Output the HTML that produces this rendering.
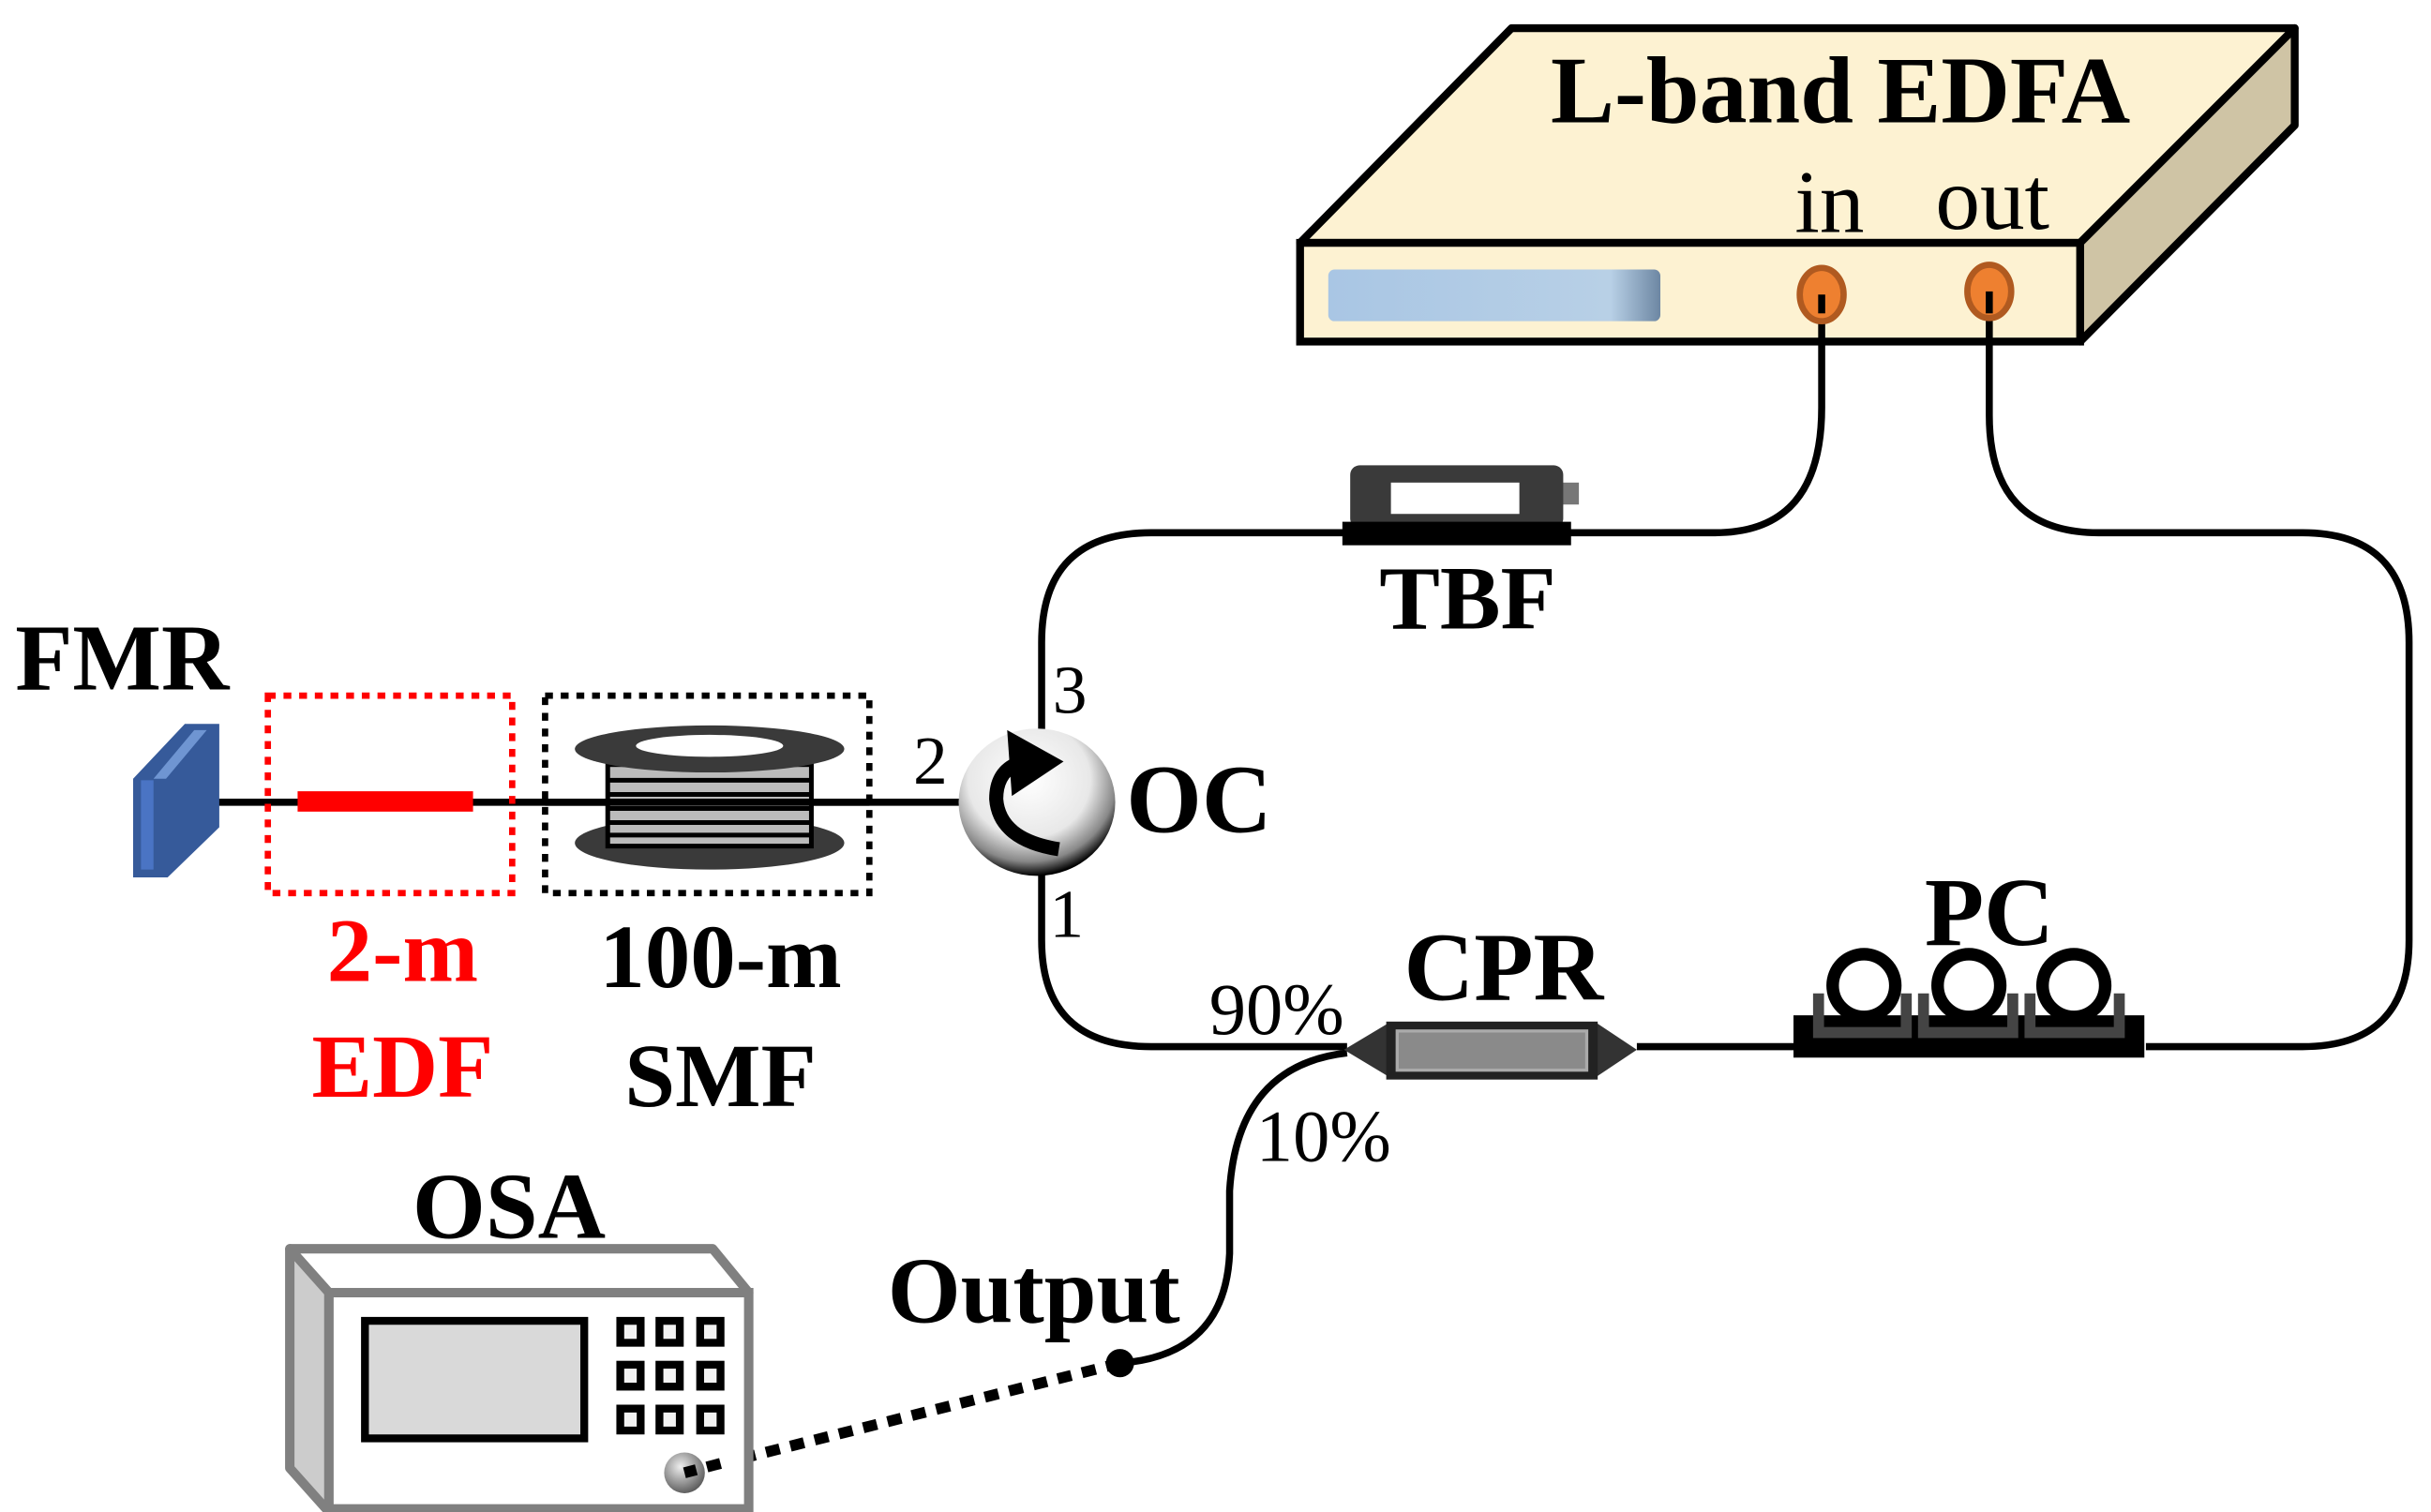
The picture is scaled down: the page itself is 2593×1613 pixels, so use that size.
<!DOCTYPE html>
<html><head><meta charset="utf-8"><style>
html,body{margin:0;padding:0;background:#fff;}
svg{display:block;}
text{font-family:"Liberation Serif",serif;}
</style></head><body>
<svg width="2593" height="1613" viewBox="0 0 1552 965" preserveAspectRatio="none" xmlns="http://www.w3.org/2000/svg">
<defs>
<linearGradient id="bl" x1="0" x2="1"><stop offset="0" stop-color="#a9c6e4"/><stop offset="0.85" stop-color="#b8d0e6"/><stop offset="1" stop-color="#6d87a3"/></linearGradient>
<radialGradient id="oc" cx="0.45" cy="0.35" r="0.65"><stop offset="0" stop-color="#fff"/><stop offset="0.6" stop-color="#e8e8e8"/><stop offset="0.85" stop-color="#888"/><stop offset="1" stop-color="#000"/></radialGradient>
<radialGradient id="kn" cx="0.4" cy="0.35" r="0.7"><stop offset="0" stop-color="#eee"/><stop offset="1" stop-color="#555"/></radialGradient>
</defs>
<!-- EDFA -->
<polygon points="830,155 965,18 1465,18 1328,155" fill="#fdf2d2" stroke="#000" stroke-width="5" stroke-linejoin="round"/>
<polygon points="1328,155 1465,18 1465,80 1328,218" fill="#cfc4a5" stroke="#000" stroke-width="5" stroke-linejoin="round"/>
<rect x="830" y="155" width="498" height="63" fill="#fdf2d2" stroke="#000" stroke-width="5"/>
<rect x="848" y="172" width="212" height="33" rx="4" fill="url(#bl)"/>
<text x="1175" y="78" font-size="61" font-weight="bold" text-anchor="middle">L-band EDFA</text>
<text x="1168" y="148" font-size="57" text-anchor="middle">in</text>
<text x="1272" y="146" font-size="57" text-anchor="middle">out</text>
<!-- fibers -->
<g fill="none" stroke="#000" stroke-width="4.5">
<path d="M1163,188 V260 Q1163,340 1095,340 H735 Q665,340 665,410 V470"/>
<path d="M665,552 V600 Q665,668 735,668 H860"/>
<path d="M1045,668 H1150"/>
<path d="M1370,668 H1470 Q1538,668 1538,600 V410 Q1538,340 1470,340 H1340 Q1270,340 1270,265 V188"/>
<path d="M860,672 Q790,680 785,760 V800 Q782,865 715,870"/>
<path d="M120,512 H614"/>
</g>
<circle cx="715" cy="870" r="9" fill="#000"/>
<line x1="715" y1="870" x2="437" y2="940" stroke="#000" stroke-width="7" stroke-dasharray="9,7"/>
<!-- ports -->
<ellipse cx="1163" cy="188" rx="14" ry="17" fill="#ee8030" stroke="#b05a20" stroke-width="4"/>
<ellipse cx="1270" cy="186" rx="14" ry="17" fill="#ee8030" stroke="#b05a20" stroke-width="4"/>
<line x1="1163" y1="188" x2="1163" y2="200" stroke="#000" stroke-width="4.5"/>
<line x1="1270" y1="186" x2="1270" y2="200" stroke="#000" stroke-width="4.5"/>
<!-- TBF -->
<rect x="997" y="308" width="11" height="14" fill="#777"/>
<rect x="862" y="297" width="136" height="40" rx="6" fill="#3a3a3a"/>
<rect x="888" y="308" width="82" height="20" fill="#fff"/>
<rect x="857" y="333" width="146" height="15" fill="#000"/>
<text x="937" y="401" font-size="58" font-weight="bold" text-anchor="middle">TBF</text>
<!-- OC -->
<ellipse cx="662" cy="512" rx="50" ry="47" fill="url(#oc)"/>
<path d="M676,542 Q638,536 636,510 Q636,494 648,488" fill="none" stroke="#000" stroke-width="9"/>
<polygon points="643,466 679,486 646,508" fill="#000"/>
<text x="683" y="455" font-size="44" text-anchor="middle">3</text>
<text x="594" y="500" font-size="44" text-anchor="middle">2</text>
<text x="681" y="598" font-size="44" text-anchor="middle">1</text>
<text x="719" y="531" font-size="62" font-weight="bold">OC</text>
<!-- FMR -->
<polygon points="85,497 118,462 140,462 140,528 107,560 85,560" fill="#365a9a"/>
<polygon points="90,498 98,498 98,555 90,555" fill="#4a74c4"/>
<polygon points="98,497 124,466 132,466 106,497" fill="#6f95d2"/>
<text x="78" y="440" font-size="60" font-weight="bold" text-anchor="middle">FMR</text>
<!-- EDF -->
<rect x="171" y="444" width="156" height="126" fill="none" stroke="#f00" stroke-width="4" stroke-dasharray="5,5"/>
<rect x="190" y="505" width="112" height="13" fill="#f00"/>
<text x="257" y="626" font-size="58" font-weight="bold" fill="#f00" text-anchor="middle">2-m</text>
<text x="257" y="700" font-size="58" font-weight="bold" fill="#f00" text-anchor="middle">EDF</text>
<!-- SMF -->
<rect x="348" y="444" width="207" height="126" fill="none" stroke="#000" stroke-width="4" stroke-dasharray="5,5"/>
<ellipse cx="453" cy="538" rx="86" ry="17" fill="#3a3a3a"/>
<rect x="388" y="488" width="130" height="52" fill="#bbb" stroke="#000" stroke-width="3"/>
<g stroke="#000" stroke-width="3"><line x1="388" y1="498" x2="518" y2="498"/><line x1="388" y1="507" x2="518" y2="507"/><line x1="388" y1="516" x2="518" y2="516"/><line x1="388" y1="525" x2="518" y2="525"/><line x1="388" y1="533" x2="518" y2="533"/></g>
<line x1="348" y1="512" x2="555" y2="512" stroke="#000" stroke-width="4.5"/>
<ellipse cx="453" cy="478" rx="86" ry="15" fill="#3a3a3a"/>
<ellipse cx="453" cy="476" rx="47" ry="7" fill="#fff"/>
<text x="460" y="630" font-size="58" font-weight="bold" text-anchor="middle">100-m</text>
<text x="460" y="706" font-size="58" font-weight="bold" text-anchor="middle">SMF</text>
<!-- CPR -->
<polygon points="858,670 888,652 888,688" fill="#333"/>
<polygon points="1045,670 1018,652 1018,688" fill="#333"/>
<rect x="885" y="652" width="135" height="37" fill="#222"/>
<rect x="892" y="658" width="121" height="25" fill="#8a8a8a" stroke="#aaa" stroke-width="2"/>
<text x="815" y="660" font-size="47" text-anchor="middle">90%</text>
<text x="845" y="741" font-size="47" text-anchor="middle">10%</text>
<text x="960" y="638" font-size="62" font-weight="bold" text-anchor="middle">CPR</text>
<!-- PC -->
<rect x="1145" y="648" width="224" height="27" fill="#000"/>
<g fill="none" stroke="#444" stroke-width="7">
<path d="M1161,634 V659 H1217 V634"/><path d="M1228,634 V659 H1285 V634"/><path d="M1296,634 V659 H1353 V634"/>
</g>
<g fill="none" stroke="#000" stroke-width="8"><circle cx="1190" cy="629" r="20"/><circle cx="1257" cy="629" r="20"/><circle cx="1324" cy="629" r="20"/></g>
<text x="1270" y="603" font-size="62" font-weight="bold" text-anchor="middle">PC</text>
<!-- OSA -->
<polygon points="185,797 455,797 478,825 210,825" fill="#fff" stroke="#808080" stroke-width="6" stroke-linejoin="round"/>
<polygon points="185,797 210,825 210,965 185,937" fill="#ccc" stroke="#808080" stroke-width="6" stroke-linejoin="round"/>
<rect x="210" y="825" width="268" height="138" fill="#fff" stroke="#808080" stroke-width="6"/>
<rect x="233" y="843" width="140" height="75" fill="#d9d9d9" stroke="#000" stroke-width="5"/>
<g fill="#f2f2f2" stroke="#000" stroke-width="5">
<rect x="396" y="843" width="13" height="14"/><rect x="421" y="843" width="13" height="14"/><rect x="447" y="843" width="13" height="14"/>
<rect x="396" y="871" width="13" height="14"/><rect x="421" y="871" width="13" height="14"/><rect x="447" y="871" width="13" height="14"/>
<rect x="396" y="899" width="13" height="14"/><rect x="421" y="899" width="13" height="14"/><rect x="447" y="899" width="13" height="14"/>
</g>
<circle cx="437" cy="940" r="13" fill="url(#kn)"/>
<line x1="460" y1="934" x2="437" y2="940" stroke="#000" stroke-width="7" stroke-dasharray="9,7"/>
<text x="325" y="790" font-size="60" font-weight="bold" text-anchor="middle">OSA</text>
<text x="660" y="844" font-size="60" font-weight="bold" text-anchor="middle">Output</text>
</svg>
</body></html>
